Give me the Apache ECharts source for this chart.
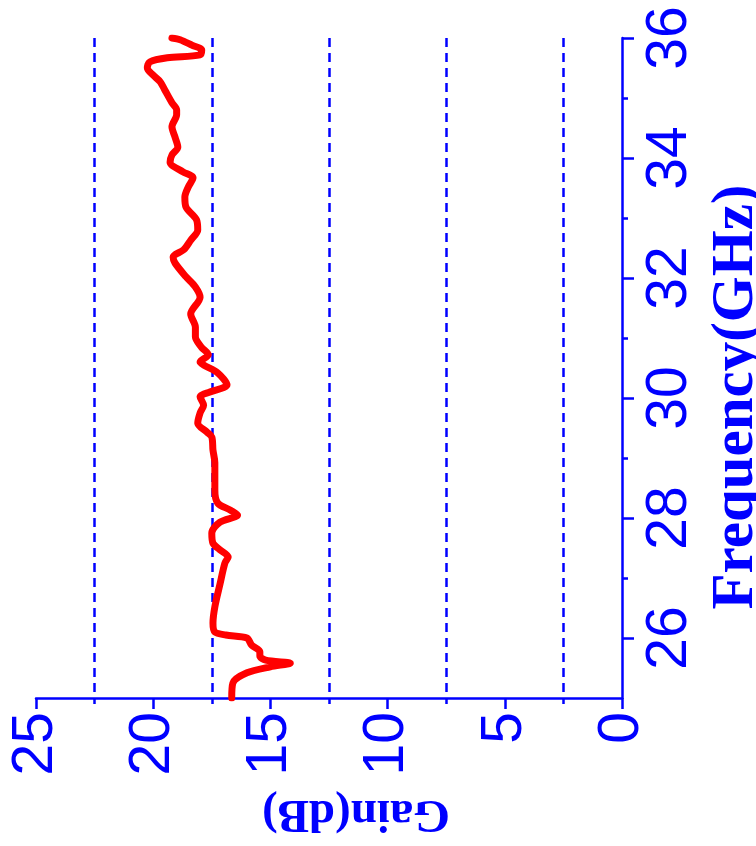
<!DOCTYPE html>
<html>
<head>
<meta charset="utf-8">
<script src="https://cdn.jsdelivr.net/npm/echarts@6/dist/echarts.min.js"></script>
<style>
  html, body { margin: 0; padding: 0; background: #fff; }
  #chart { width: 756px; height: 846px; }
</style>
</head>
<body>
<div id="chart"></div>
<script>
// Measured gain of the amplifier across the band (frequency in GHz, gain in dB)
const freqGHz = [
  25.00, 25.25, 25.42, 25.52, 25.58, 25.63, 25.70, 25.77, 25.88, 26.00,
  26.05, 26.10, 26.25, 26.52, 26.90, 27.25, 27.35, 27.47, 27.58, 27.75,
  27.93, 28.05, 28.13, 28.25, 28.47, 28.92, 29.13, 29.35, 29.43, 29.58,
  29.75, 29.88, 30.02, 30.10, 30.22, 30.42, 30.55, 30.60, 30.72, 30.85,
  31.02, 31.18, 31.40, 31.68, 31.85, 32.02, 32.25, 32.35, 32.47, 32.63,
  32.80, 32.97, 33.18, 33.35, 33.52, 33.67, 33.77, 33.93, 34.05, 34.18,
  34.35, 34.52, 34.72, 34.80, 34.92, 35.13, 35.27, 35.38, 35.50, 35.60,
  35.67, 35.72, 35.80, 35.88, 35.97, 36.00
];
const gainDB = [
  16.65, 16.60, 16.00, 15.00, 14.15, 15.20, 15.45, 15.45, 15.80, 16.00,
  16.90, 17.37, 17.45, 17.37, 17.15, 16.94, 16.80, 17.15, 17.45, 17.50,
  17.15, 16.40, 16.70, 17.25, 17.37, 17.37, 17.45, 17.50, 17.70, 18.10,
  18.00, 17.85, 18.00, 17.58, 16.85, 17.25, 17.85, 18.00, 17.65, 17.95,
  18.20, 18.20, 18.40, 18.00, 18.20, 18.60, 19.07, 19.15, 18.70, 18.40,
  18.10, 18.15, 18.60, 18.65, 18.50, 18.30, 18.73, 19.28, 19.20, 18.95,
  19.07, 19.20, 19.00, 19.00, 19.20, 19.50, 19.70, 20.00, 20.25, 20.15,
  19.40, 18.00, 17.93, 18.35, 18.85, 19.20
];

// Axis ticks
const gainTicks = [0, 5, 10, 15, 20, 25];
const freqMajorTicks = [26, 28, 30, 32, 34, 36];
const freqMinorTicks = [27, 29, 31, 33, 35];

const BLUE = '#0000ff';
const RED = '#ff0000';
const tickFont = "'Liberation Sans', Arial, sans-serif";
const titleFont = "'Liberation Serif', 'Times New Roman', serif";

const seriesData = freqGHz.map((f, i) => [gainDB[i], f]);

const chart = echarts.init(document.getElementById('chart'), null, { renderer: 'canvas' });

chart.setOption({
  animation: false,
  backgroundColor: '#ffffff',
  grid: {
    left: 36, right: 134, top: 38, bottom: 148,
    containLabel: false,
    outerBoundsMode: 'none'
  },
  xAxis: {
    type: 'value',
    min: 0,
    max: 25,
    interval: 5,
    inverse: true,
    position: 'bottom',
    name: 'Gain(dB)',
    nameLocation: 'middle',
    nameRotate: 180,
    nameGap: 92,
    nameTextStyle: {
      color: BLUE, fontFamily: titleFont, fontWeight: 'bold', fontSize: 47,
      padding: [0, 54, 0, 0]
    },
    axisLine: { show: true, onZero: false, lineStyle: { color: BLUE, width: 2.5 } },
    axisTick: { show: true, inside: false, length: 11, lineStyle: { color: BLUE, width: 2.5 },
      customValues: gainTicks },
    minorTick: { show: true, splitNumber: 2, length: 6, lineStyle: { color: BLUE, width: 2.5 } },
    axisLabel: {
      show: true, rotate: 90, margin: 14, color: BLUE,
      fontFamily: tickFont, fontSize: 57,
      customValues: gainTicks,
      formatter: v => String(v)
    },
    splitLine: { show: false },
    minorSplitLine: { show: true, lineStyle: { color: BLUE, width: 2.5, type: [9, 6] } }
  },
  yAxis: [
    {
      type: 'value',
      min: 25,
      max: 36,
      position: 'right',
      name: 'Frequency(GHz)',
      nameLocation: 'middle',
      nameRotate: 90,
      nameGap: 64,
      nameTextStyle: {
        color: BLUE, fontFamily: titleFont, fontWeight: 'bold', fontSize: 59,
        padding: [0, 58, 0, 0]
      },
      axisLine: { show: true, onZero: false, lineStyle: { color: BLUE, width: 2.5 } },
      axisTick: { show: true, inside: false, length: 12, lineStyle: { color: BLUE, width: 2.5 },
        customValues: freqMajorTicks },
      axisLabel: {
        show: true, rotate: 90, margin: 20, color: BLUE,
        fontFamily: tickFont, fontSize: 57,
        customValues: freqMajorTicks,
        formatter: v => String(v)
      },
      splitLine: { show: false }
    },
    {
      // companion axis carrying the odd-GHz minor ticks
      type: 'value',
      min: 25,
      max: 36,
      position: 'right',
      axisLine: { show: false, onZero: false },
      axisTick: { show: true, inside: false, length: 6, lineStyle: { color: BLUE, width: 2.5 },
        customValues: freqMinorTicks },
      axisLabel: { show: false },
      splitLine: { show: false }
    }
  ],
  series: [
    {
      type: 'line',
      yAxisIndex: 0,
      data: seriesData,
      showSymbol: false,
      smooth: 0.3,
      lineStyle: { color: RED, width: 7, cap: 'round', join: 'round' },
      z: 5
    }
  ]
});
</script>
</body>
</html>
